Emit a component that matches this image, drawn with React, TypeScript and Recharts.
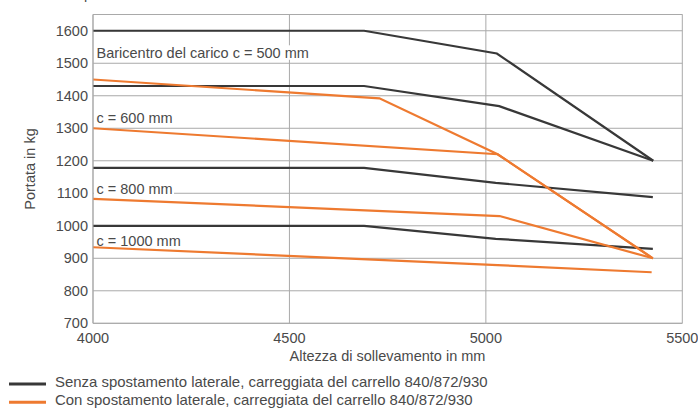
import React from 'react';
import { LineChart, Line, XAxis, YAxis, CartesianGrid, ReferenceLine, Customized } from 'recharts';

// X values (Altezza di sollevamento in mm)
const xTicks = [4000, 4500, 5000, 5500];
const yTicks = [700, 800, 900, 1000, 1100, 1200, 1300, 1400, 1500, 1600];

// Senza spostamento laterale (dark)
const senzaX500 = [4000, 4690, 5028, 5426];
const senzaY500 = [1600, 1600, 1530, 1200];
const senzaX600 = [4000, 4690, 5034, 5426];
const senzaY600 = [1430, 1430, 1368, 1200];
const senzaX800 = [4000, 4690, 5025, 5425];
const senzaY800 = [1178, 1178, 1132, 1088];
const senzaX1000 = [4000, 4690, 5025, 5425];
const senzaY1000 = [1000, 1000, 960, 929];

// Con spostamento laterale (orange)
const conX500 = [4000, 4729, 5030, 5425];
const conY500 = [1450, 1392, 1220, 900];
const conX600 = [4000, 5030, 5425];
const conY600 = [1300, 1220, 900];
const conX800 = [4000, 5035, 5425];
const conY800 = [1083, 1030, 900];
const conX1000 = [4000, 5030, 5422];
const conY1000 = [934, 879, 857];

const curveLabels = ['Baricentro del carico c = 500 mm', 'c = 600 mm', 'c = 800 mm', 'c = 1000 mm'];
const legendLabels = [
  'Senza spostamento laterale, carreggiata del carrello 840/872/930',
  'Con spostamento laterale, carreggiata del carrello 840/872/930',
];

const zip = (xs: number[], ys: number[]) => xs.map((x, i) => ({ x, y: ys[i] }));

const DARK = '#383838';
const ORANGE = '#ee7a30';
const GRID = '#a9a9a9';
const TEXT = '#4a4a4a';
const FONT = "'Liberation Sans', Arial, sans-serif";
const FS = 14.5;

const series = [
  { key: 's500', data: zip(senzaX500, senzaY500), color: DARK },
  { key: 's600', data: zip(senzaX600, senzaY600), color: DARK },
  { key: 's800', data: zip(senzaX800, senzaY800), color: DARK },
  { key: 's1000', data: zip(senzaX1000, senzaY1000), color: DARK },
  { key: 'c500', data: zip(conX500, conY500), color: ORANGE },
  { key: 'c600', data: zip(conX600, conY600), color: ORANGE },
  { key: 'c800', data: zip(conX800, conY800), color: ORANGE },
  { key: 'c1000', data: zip(conX1000, conY1000), color: ORANGE },
];

// label text baselines and widths (layout only)
const labelBaselines = [58.3, 123.3, 194.3, 246];
const labelWidths = [218, 76, 80, 88];

const Decorations = () => (
  <g fontFamily={FONT} fill={TEXT}>
    {curveLabels.map((t, i) => (
      <g key={t}>
        <rect x={94} y={labelBaselines[i] - 13} width={labelWidths[i]} height={14.5} fill="#ffffff" />
        <text x={96.5} y={labelBaselines[i]} fontSize={FS} fill={TEXT}>{t}</text>
      </g>
    ))}
  </g>
);

export default function App() {
  return (
    <div style={{ position: 'absolute', left: 0, top: 0, width: 698, height: 412, fontFamily: FONT, background: '#fff' }}>
      <LineChart
        width={698}
        height={412}
        margin={{ top: 14.5, right: 15.7, bottom: 58.7, left: 33 }}
      >
        <CartesianGrid stroke={GRID} strokeWidth={1} />
        <XAxis
          dataKey="x"
          type="number"
          domain={[4000, 5500]}
          ticks={xTicks}
          allowDuplicatedCategory={false}
          tickSize={0}
          tickMargin={9.5}
          height={30}
          axisLine={{ stroke: GRID }}
          tick={{ fontSize: FS, fill: TEXT, fontFamily: FONT }}
        />
        <YAxis
          type="number"
          domain={[700, 1650]}
          ticks={yTicks}
          tickSize={0}
          tickMargin={5}
          width={60}
          axisLine={{ stroke: GRID }}
          tick={{ fontSize: FS, fill: TEXT, fontFamily: FONT }}
        />
        <ReferenceLine y={1650} stroke={GRID} strokeWidth={1} />
        <Customized component={Decorations} />
        {series.map((s) => (
          <Line
            key={s.key}
            data={s.data}
            dataKey="y"
            type="linear"
            stroke={s.color}
            strokeWidth={2.2}
            dot={false}
            activeDot={false}
            isAnimationActive={false}
          />
        ))}
      </LineChart>
      <svg
        width={698}
        height={412}
        style={{ position: 'absolute', left: 0, top: 0, pointerEvents: 'none' }}
        fontFamily={FONT}
      >
        <text x={84} y={-0.8} fontSize={FS} fill={TEXT}>p</text>
        <text
          x={0}
          y={0}
          fontSize={FS}
          fill={TEXT}
          textAnchor="middle"
          transform="translate(35,169) rotate(-90)"
        >
          Portata in kg
        </text>
        <text x={387.5} y={361} fontSize={FS} fill={TEXT} textAnchor="middle">
          Altezza di sollevamento in mm
        </text>
        <line x1={9} x2={46} y1={384} y2={384} stroke={DARK} strokeWidth={3} />
        <text x={55} y={387.3} fontSize={14.95} fill={TEXT}>{legendLabels[0]}</text>
        <line x1={9} x2={46} y1={402.3} y2={402.3} stroke={ORANGE} strokeWidth={3} />
        <text x={55} y={404.8} fontSize={14.95} fill={TEXT}>{legendLabels[1]}</text>
      </svg>
    </div>
  );
}
